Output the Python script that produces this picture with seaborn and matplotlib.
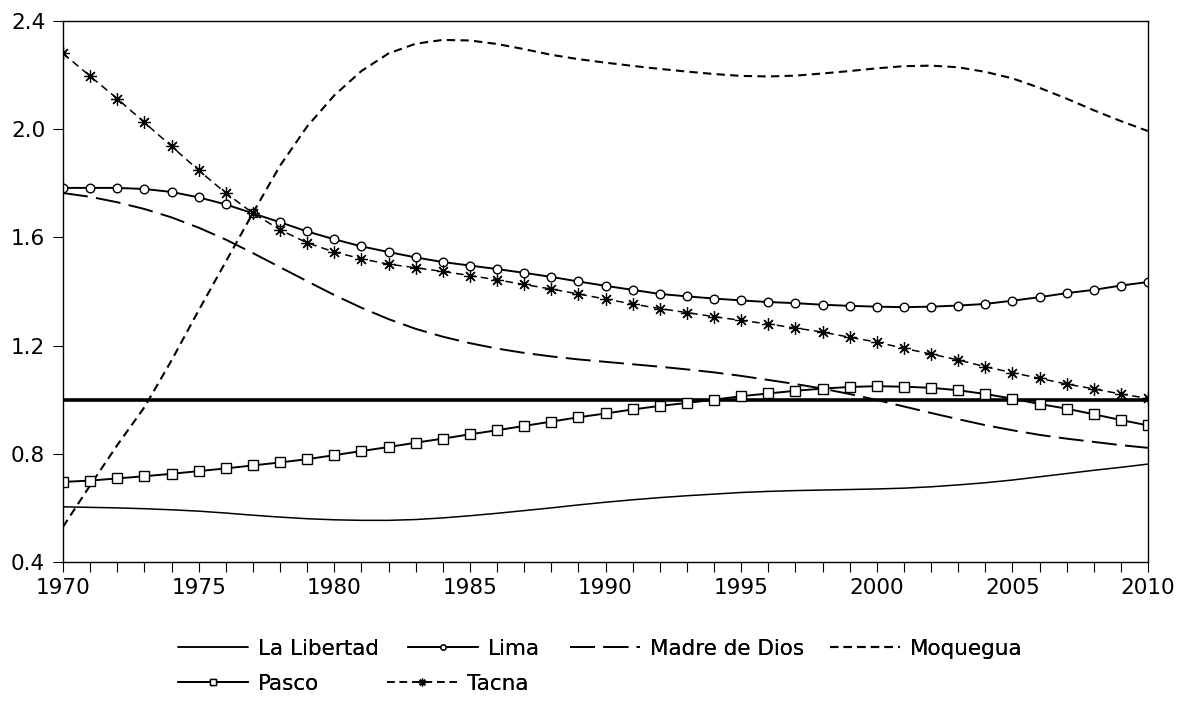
import matplotlib
matplotlib.use("Agg")
import matplotlib.pyplot as plt
import seaborn as sns
from matplotlib.ticker import MultipleLocator, FormatStrFormatter

years = list(range(1970, 2011))

la_libertad = [0.604, 0.602, 0.600, 0.597, 0.593, 0.588, 0.581, 0.573, 0.566, 0.560,
               0.556, 0.554, 0.554, 0.557, 0.563, 0.571, 0.580, 0.590, 0.600, 0.611,
               0.621, 0.630, 0.638, 0.645, 0.651, 0.657, 0.661, 0.664, 0.666, 0.668,
               0.670, 0.673, 0.678, 0.685, 0.693, 0.703, 0.715, 0.727, 0.739, 0.750,
               0.762]
lima = [1.783, 1.783, 1.783, 1.779, 1.768, 1.748, 1.722, 1.689, 1.656, 1.622,
        1.593, 1.567, 1.546, 1.526, 1.509, 1.496, 1.483, 1.469, 1.454, 1.437,
        1.421, 1.406, 1.391, 1.382, 1.374, 1.367, 1.361, 1.357, 1.351, 1.347,
        1.344, 1.342, 1.344, 1.348, 1.354, 1.366, 1.379, 1.394, 1.406, 1.422,
        1.435]
madre_de_dios = [1.764, 1.750, 1.730, 1.705, 1.674, 1.636, 1.592, 1.542, 1.490, 1.438,
                 1.387, 1.340, 1.298, 1.262, 1.233, 1.209, 1.189, 1.173, 1.160, 1.149,
                 1.140, 1.131, 1.122, 1.112, 1.101, 1.088, 1.073, 1.058, 1.041, 1.021,
                 0.999, 0.975, 0.951, 0.928, 0.906, 0.887, 0.870, 0.856, 0.844, 0.832,
                 0.822]
moquegua = [0.530, 0.683, 0.832, 0.972, 1.145, 1.330, 1.510, 1.690, 1.865, 2.010,
            2.125, 2.215, 2.280, 2.316, 2.330, 2.328, 2.315, 2.296, 2.275, 2.259,
            2.246, 2.234, 2.223, 2.213, 2.204, 2.197, 2.195, 2.198, 2.206, 2.215,
            2.225, 2.233, 2.235, 2.229, 2.212, 2.188, 2.153, 2.113, 2.070, 2.030,
            1.993]
pasco = [0.696, 0.701, 0.709, 0.717, 0.726, 0.736, 0.746, 0.757, 0.768, 0.780,
         0.795, 0.810, 0.825, 0.841, 0.856, 0.872, 0.887, 0.903, 0.919, 0.935,
         0.949, 0.964, 0.977, 0.988, 1.000, 1.013, 1.023, 1.033, 1.041, 1.047,
         1.050, 1.048, 1.044, 1.035, 1.021, 1.004, 0.984, 0.967, 0.946, 0.925,
         0.905]
tacna = [2.280, 2.196, 2.113, 2.025, 1.937, 1.848, 1.764, 1.690, 1.628, 1.580,
         1.546, 1.521, 1.501, 1.488, 1.474, 1.459, 1.443, 1.426, 1.409, 1.391,
         1.372, 1.354, 1.337, 1.322, 1.307, 1.293, 1.280, 1.265, 1.250, 1.231,
         1.213, 1.190, 1.169, 1.147, 1.122, 1.100, 1.079, 1.058, 1.040, 1.021,
         1.005]

series_names = ["La Libertad", "Lima", "Madre de Dios", "Moquegua", "Pasco", "Tacna"]
series_values = [la_libertad, lima, madre_de_dios, moquegua, pasco, tacna]
reference_level = 1.0
y_ticks = [0.4, 0.8, 1.2, 1.6, 2.0, 2.4]

sns.set_theme(style="white")
plt.rcParams["font.family"] = ["DejaVu Sans"]
plt.rcParams["lines.scale_dashes"] = False
FS = 15.5

W, H = 1183, 704
fig = plt.figure(figsize=(W / 100, H / 100), dpi=100)
ax = fig.add_axes([63 / W, 1 - 562 / H, (1148 - 63) / W, (562 - 21) / H])

styles = {
    "La Libertad": dict(lw=1.1, linestyle="-"),
    "Lima": dict(lw=1.4, linestyle="-", marker="o", ms=6.2, mfc="white", mec="black", mew=1.0),
    "Madre de Dios": dict(lw=1.4, linestyle=(0, (18, 6))),
    "Moquegua": dict(lw=1.5, linestyle=(0, (6, 3.8))),
    "Pasco": dict(lw=1.4, linestyle="-", marker="s", ms=7, mfc="white", mec="black", mew=1.0),
    "Tacna": dict(lw=1.1, linestyle=(0, (5.5, 3.5)), marker=(8, 2, 0), ms=9, mec="black", mew=0.9),
}

ax.axhline(reference_level, color="black", lw=2.6, zorder=1.5)

handles = {}
for name, vals in zip(series_names, series_values):
    sns.lineplot(x=years, y=vals, ax=ax, color="black", legend=False, **styles[name])
    handles[name] = ax.lines[-1]

ax.set_xlim(1970, 2010)
ax.set_ylim(0.4, 2.4)
ax.set_yticks(y_ticks)
ax.yaxis.set_major_formatter(FormatStrFormatter("%.1f"))
ax.xaxis.set_major_locator(MultipleLocator(5))
ax.xaxis.set_minor_locator(MultipleLocator(1))
ax.set_xlabel("")
ax.set_ylabel("")
for sp in ax.spines.values():
    sp.set_color("black")
    sp.set_linewidth(1.0)
ax.tick_params(axis="both", which="both", direction="out", color="black",
               width=0.8, labelsize=FS, labelcolor="black")
ax.tick_params(axis="y", which="major", length=7.2, pad=5.5, left=True)
ax.tick_params(axis="x", which="major", length=7.2, pad=4.5, bottom=True)
ax.tick_params(axis="x", which="minor", length=7.2, bottom=True)

fpx = FS * 100 / 72
entries = [
    ("La Libertad", 178, 649, 1.0),
    ("Lima", 408, 649, 0.6),
    ("Madre de Dios", 570, 649, 1.0),
    ("Moquegua", 830, 649, 1.0),
    ("Pasco", 178, 684, 0.6),
    ("Tacna", 387, 684, 0.6),
]
for name, xpx, ypx, mscale in entries:
    leg = fig.legend(handles=[handles[name]], labels=[name], loc="center left",
                     bbox_to_anchor=(xpx / W, 1 - ypx / H), frameon=False,
                     borderpad=0, borderaxespad=0, handlelength=70 / fpx,
                     handletextpad=10 / fpx, fontsize=FS, markerscale=mscale,
                     numpoints=1)
    for t in leg.get_texts():
        t.set_color("black")
    fig.add_artist(leg)

fig.savefig("out.png", dpi=100, facecolor="white")
